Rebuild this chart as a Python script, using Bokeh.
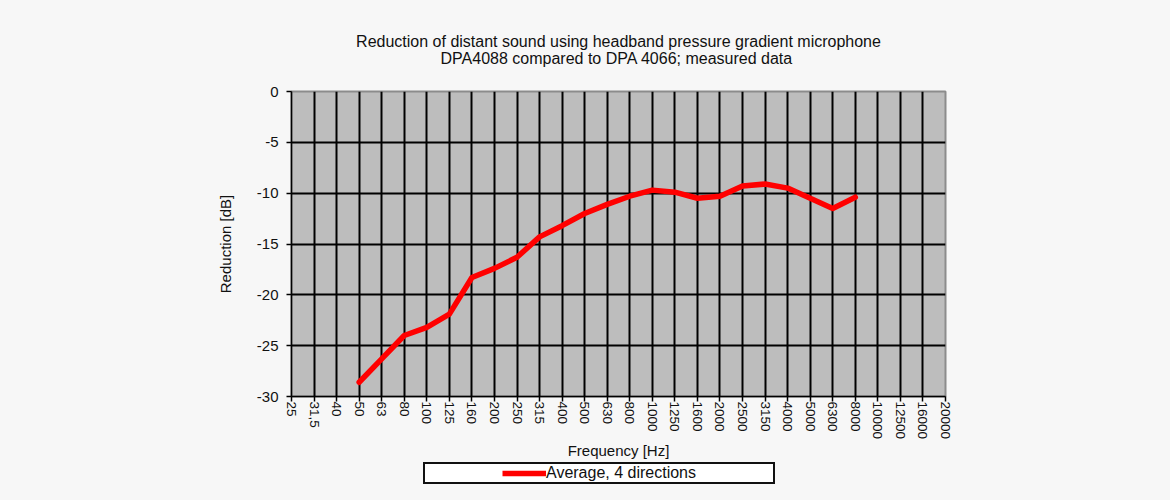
from bokeh.plotting import figure
from bokeh.layouts import column
from bokeh.models import FixedTicker, Range1d, Legend, LegendItem, Title
from bokeh.embed import file_html
from bokeh.resources import INLINE

# ---- data ----
freq_labels = ["25", "31,5", "40", "50", "63", "80", "100", "125", "160", "200",
               "250", "315", "400", "500", "630", "800", "1000", "1250", "1600", "2000",
               "2500", "3150", "4000", "5000", "6300", "8000", "10000", "12500", "16000", "20000"]
series_freqs = ["50", "63", "80", "100", "125", "160", "200", "250", "315", "400",
                "500", "630", "800", "1000", "1250", "1600", "2000", "2500", "3150", "4000",
                "5000", "6300", "8000"]
series_values = [-28.6, -26.3, -24.0, -23.2, -21.9, -18.3, -17.4, -16.3, -14.3, -13.2,
                 -12.0, -11.1, -10.3, -9.7, -9.9, -10.5, -10.3, -9.3, -9.1, -9.5,
                 -10.5, -11.5, -10.4]
y_ticks = [0, -5, -10, -15, -20, -25, -30]
series_name = "Average, 4 directions"
title_lines = ["Reduction of distant sound using headband pressure gradient microphone",
               "DPA4088 compared to DPA 4066; measured data"]

FONT = "Liberation Sans"
PAGE_BG = "#f7f7f7"
LINE_COLOR = "#ff0000"
LINE_WIDTH = 5.5

x_pos = [freq_labels.index(f) for f in series_freqs]

p = figure(frame_width=654, frame_height=305,
           min_border_left=291, min_border_right=209,
           min_border_top=91, min_border_bottom=64,
           x_range=Range1d(0, len(freq_labels) - 1),
           y_range=Range1d(min(y_ticks), max(y_ticks)),
           output_backend="svg", toolbar_location=None,
           background_fill_color="#bdbdbd", border_fill_color=PAGE_BG,
           outline_line_color="#8c8c8c", outline_line_width=2)
p.title = None

# second line is indented with no-break spaces so that both lines look centred
title_text = title_lines[0] + "\n" + "\u00a0" * 19 + title_lines[1]
title = Title(text=title_text, align="center", text_font=FONT,
              text_font_size="16px", text_font_style="normal",
              text_color="#111111", standoff=50)
p.add_layout(title, "above")

# x axis
xa = p.xaxis[0]
xa.ticker = FixedTicker(ticks=list(range(len(freq_labels))))
xa.major_label_overrides = {i: lab for i, lab in enumerate(freq_labels)}
xa.major_label_orientation = "vertical"
xa.major_label_text_font = FONT
xa.major_label_text_font_size = "13.5px"
xa.major_label_text_color = "#111111"
xa.major_label_standoff = 0
xa.major_tick_out = 5
xa.major_tick_in = 0
xa.minor_tick_line_color = None
xa.axis_line_color = "black"
xa.axis_line_width = 1.5
xa.major_tick_line_width = 1.5
xa.axis_label = "Frequency [Hz]"
xa.axis_label_text_font = FONT
xa.axis_label_text_font_size = "15px"
xa.axis_label_text_font_style = "normal"
xa.axis_label_text_color = "#111111"
xa.axis_label_standoff = 0

# y axis
ya = p.yaxis[0]
ya.ticker = FixedTicker(ticks=y_ticks)
ya.major_label_overrides = {v: str(v) for v in y_ticks}
ya.major_label_text_font = FONT
ya.major_label_text_font_size = "15px"
ya.major_label_text_color = "#111111"
ya.major_label_standoff = 8
ya.major_tick_out = 5
ya.major_tick_in = 0
ya.minor_tick_line_color = None
ya.axis_line_color = "black"
ya.axis_line_width = 1.5
ya.major_tick_line_width = 1.5
ya.axis_label = "Reduction [dB]"
ya.axis_label_text_font = FONT
ya.axis_label_text_font_size = "15px"
ya.axis_label_text_font_style = "normal"
ya.axis_label_text_color = "#111111"
ya.axis_label_standoff = 20

for g in (p.xgrid[0], p.ygrid[0]):
    g.grid_line_color = "black"
    g.grid_line_width = 2
    g.grid_line_alpha = 1

p.line(x_pos, series_values, line_color=LINE_COLOR, line_width=LINE_WIDTH,
       line_join="round", line_cap="round")

# ---- legend strip below the chart (its frame is aligned with the chart's frame) ----
leg = figure(width=1154, height=34, min_border=0,
             x_range=Range1d(0, 1), y_range=Range1d(0, 1),
             x_axis_type=None, y_axis_type=None,
             output_backend="svg", toolbar_location=None,
             background_fill_color=PAGE_BG, border_fill_color=PAGE_BG,
             outline_line_color=None)
leg.xgrid.visible = False
leg.ygrid.visible = False
# same series; it lies outside this strip's ranges, only its legend swatch shows
leg_line = leg.line(x_pos, series_values, line_color=LINE_COLOR, line_width=LINE_WIDTH)
ghost = leg.line(x=[], y=[], line_alpha=0)

# invisible spacer entries so the legend box is as wide as the reference's
legend = Legend(items=[LegendItem(label=" ", renderers=[ghost]),
                       LegendItem(label=series_name, renderers=[leg_line]),
                       LegendItem(label=" ", renderers=[ghost])],
                orientation="horizontal", location=(132, 12),
                padding=0, margin=0, spacing=33,
                border_line_color="#111111", border_line_width=2, border_line_alpha=1,
                background_fill_color="white", background_fill_alpha=1,
                glyph_width=44, glyph_height=14, label_height=14, label_width=0,
                label_standoff=0, label_text_font=FONT,
                label_text_font_size="16px", label_text_color="#111111")
leg.add_layout(legend)

layout = column(p, leg, spacing=0)
html = file_html(layout, INLINE)
html = html.replace("<head>", "<head><style>html, body { background: %s; }</style>" % PAGE_BG, 1)
open("out.html", "w").write(html)
